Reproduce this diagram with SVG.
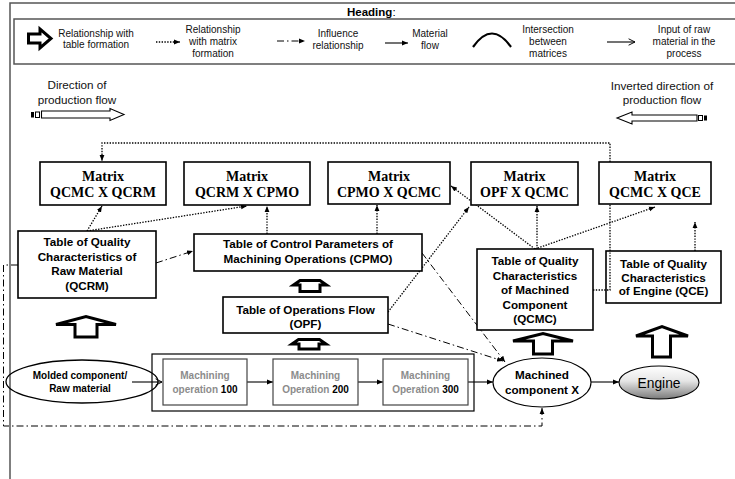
<svg xmlns="http://www.w3.org/2000/svg" width="735" height="479" viewBox="0 0 735 479">
  <style>
    .sans { font-family: "Liberation Sans", Arial, sans-serif; }
    .serif { font-family: "Liberation Serif", "Times New Roman", serif; }
    .legend { font-family: "Liberation Sans", Arial, sans-serif; font-size: 10px; fill: #111; text-anchor: middle; }
    .mtx { font-family: "Liberation Serif", "Times New Roman", serif; font-size: 14px; font-weight: bold; fill: #000; text-anchor: middle; }
    .tbl { font-family: "Liberation Sans", Arial, sans-serif; font-size: 11.7px; font-weight: bold; fill: #000; text-anchor: middle; }
    .op { font-family: "Liberation Sans", Arial, sans-serif; font-size: 10px; font-weight: bold; fill: #8c8c8c; text-anchor: middle; }
    .op .num { fill: #000; }
    .box { fill: #fff; stroke: #000; stroke-width: 1.6; }
    .opbox { fill: #fff; stroke: #444; stroke-width: 1.2; }
    .frame { fill: none; stroke: #555; stroke-width: 1.5; }
    .dot { fill: none; stroke: #000; stroke-width: 1.3; stroke-dasharray: 1.4 1.4; }
    .dash { fill: none; stroke: #000; stroke-width: 1; stroke-dasharray: 7 3 1.5 3; }
    .flow { fill: none; stroke: #000; stroke-width: 1.1; }
    .thick { fill: #fff; stroke: #000; stroke-width: 3; stroke-linejoin: miter; }
    .dir { fill: #fff; stroke: #000; stroke-width: 1.1; }
  </style>
  <defs>
    <marker id="ah" viewBox="0 0 10 10" refX="10" refY="5" markerWidth="6" markerHeight="6" markerUnits="userSpaceOnUse" orient="auto">
      <path d="M0,1 L10,5 L0,9 z" fill="#000"/>
    </marker>
    <marker id="ahOpen" viewBox="0 0 10 10" refX="9" refY="5" markerWidth="8" markerHeight="8" markerUnits="userSpaceOnUse" orient="auto">
      <path d="M1,1 L9,5 L1,9" fill="none" stroke="#000" stroke-width="1.2"/>
    </marker>
    <linearGradient id="engineFill" x1="0" y1="0" x2="0" y2="1">
      <stop offset="0" stop-color="#ffffff"/>
      <stop offset="0.45" stop-color="#e6e6e6"/>
      <stop offset="1" stop-color="#7a7a7a"/>
    </linearGradient>
  </defs>

  <rect width="735" height="479" fill="#fff"/>

  <!-- outer frame and legend -->
  <g id="legend">
    <path class="frame" d="M10,479 V3 H740"/>
    <rect class="frame" x="14" y="19" width="730" height="45"/>
    <text class="sans" x="347" y="15.5" font-size="11.5" font-weight="bold" fill="#000">Heading<tspan font-weight="normal">:</tspan></text>

    <polygon class="thick" points="28.5,34 40,34 40,29 51,38.5 40,48 40,43 28.5,43"/>
    <text class="legend" x="96" y="37">Relationship with</text>
    <text class="legend" x="96" y="48">table formation</text>

    <line class="dot" x1="156" y1="42" x2="180" y2="42" marker-end="url(#ah)"/>
    <text class="legend" x="213" y="33">Relationship</text>
    <text class="legend" x="213" y="45">with matrix</text>
    <text class="legend" x="213" y="57">formation</text>

    <line class="dash" x1="277" y1="41" x2="305" y2="41" marker-end="url(#ah)"/>
    <text class="legend" x="338" y="37">Influence</text>
    <text class="legend" x="338" y="49">relationship</text>

    <line class="flow" x1="385" y1="43" x2="408" y2="43" marker-end="url(#ah)"/>
    <text class="legend" x="430" y="37">Material</text>
    <text class="legend" x="430" y="49">flow</text>

    <path d="M473,47 Q492,20 511,47" fill="none" stroke="#000" stroke-width="2.2"/>
    <text class="legend" x="548" y="33">Intersection</text>
    <text class="legend" x="548" y="45">between</text>
    <text class="legend" x="548" y="57">matrices</text>

    <line class="flow" x1="607" y1="42" x2="635" y2="42" marker-end="url(#ahOpen)"/>
    <text class="legend" x="684" y="33">Input of raw</text>
    <text class="legend" x="684" y="45">material in the</text>
    <text class="legend" x="684" y="57">process</text>
  </g>

  <!-- production flow direction indicators -->
  <g id="direction-forward">
    <text class="sans" x="77" y="89" font-size="11.7" text-anchor="middle" fill="#111">Direction of</text>
    <text class="sans" x="77" y="104" font-size="11.7" text-anchor="middle" fill="#111">production flow</text>
    <rect x="31" y="112" width="3" height="5.5" fill="#000"/>
    <rect x="35.5" y="112" width="4" height="5.5" fill="#fff" stroke="#000" stroke-width="1"/>
    <polygon class="dir" points="41.5,111 110,111 110,108.5 124,114.5 110,120.5 110,118 41.5,118"/>
  </g>
  <g id="direction-inverted">
    <text class="sans" x="662" y="90" font-size="11.7" text-anchor="middle" fill="#111">Inverted direction of</text>
    <text class="sans" x="662" y="104" font-size="11.7" text-anchor="middle" fill="#111">production flow</text>
    <polygon class="dir" points="697,115 632,115 632,112 617,118 632,124 632,121 697,121"/>
    <rect x="698.5" y="115.5" width="4" height="5" fill="#fff" stroke="#000" stroke-width="1"/>
    <rect x="704" y="115.5" width="3" height="5" fill="#000"/>
  </g>

  <!-- connectors -->
  <g id="connectors">
    <!-- matrix formation (dotted) -->
    <path class="dot" d="M593,290 H610 V204"/>
    <path class="dot" d="M610,162 V143 H102 V161" marker-end="url(#ah)"/>
    <line class="dot" x1="87" y1="231" x2="102" y2="206" marker-end="url(#ah)"/>
    <line class="dot" x1="87" y1="231" x2="247" y2="206" marker-end="url(#ah)"/>
    <line class="dot" x1="267" y1="234" x2="267" y2="206" marker-end="url(#ah)"/>
    <line class="dot" x1="377" y1="234" x2="377" y2="205" marker-end="url(#ah)"/>
    <line class="dot" x1="388" y1="312" x2="469" y2="207" marker-end="url(#ah)"/>
    <line class="dot" x1="535" y1="249" x2="451" y2="186" marker-end="url(#ah)"/>
    <line class="dot" x1="537" y1="249" x2="537" y2="206" marker-end="url(#ah)"/>
    <line class="dot" x1="535" y1="249" x2="655" y2="207" marker-end="url(#ah)"/>
    <line class="dot" x1="695" y1="251" x2="695" y2="222" marker-end="url(#ah)"/>

    <!-- influence (dash-dot) -->
    <line class="dash" x1="156" y1="263" x2="193" y2="251" marker-end="url(#ah)"/>
    <line class="dash" x1="422" y1="253" x2="505" y2="362" marker-end="url(#ah)"/>
    <line class="dash" x1="388" y1="324" x2="503" y2="361" marker-end="url(#ah)"/>
    <path class="dash" d="M18,265 H3.5 V426 H542 V408" stroke="#333" marker-end="url(#ah)"/>

    <!-- material flow -->
    <line class="flow" x1="132" y1="382" x2="162" y2="382" marker-end="url(#ahOpen)"/>
    <line class="flow" x1="247" y1="382" x2="273" y2="382" marker-end="url(#ah)"/>
    <line class="flow" x1="358" y1="382" x2="383" y2="382" marker-end="url(#ah)"/>
    <line class="flow" x1="468" y1="382" x2="493" y2="382" marker-end="url(#ah)"/>
    <line class="flow" x1="591" y1="382" x2="619" y2="382" marker-end="url(#ah)"/>
  </g>

  <!-- table formation arrows -->
  <g id="table-arrows">
    <polygon class="thick" points="75,337 75,324.5 56,324.5 86,316.5 116,324.5 97,324.5 97,337"/>
    <polygon class="thick" points="300,291.5 300,285 293.5,285 300,280.5 320,280.5 326.5,285 320,285 320,291.5"/>
    <polygon class="thick" points="299,349 299,344 292,344 298.5,339.5 319.5,339.5 326,344 319,344 319,349"/>
    <polygon class="thick" points="533.5,354 533.5,341 513,341 543,333.5 573,341 552.5,341 552.5,354"/>
    <polygon class="thick" points="652.5,357 652.5,336 636,336 662,326.5 688,336 670.5,336 670.5,357"/>
  </g>

  <!-- matrices -->
  <g id="matrix-qcmc-qcrm">
    <rect class="box" x="40" y="162" width="126" height="43"/>
    <text class="mtx" x="103" y="181">Matrix</text>
    <text class="mtx" x="103" y="197">QCMC X QCRM</text>
  </g>
  <g id="matrix-qcrm-cpmo">
    <rect class="box" x="184" y="162" width="126" height="43"/>
    <text class="mtx" x="247" y="181">Matrix</text>
    <text class="mtx" x="247" y="197">QCRM X CPMO</text>
  </g>
  <g id="matrix-cpmo-qcmc">
    <rect class="box" x="328" y="162" width="122" height="42"/>
    <text class="mtx" x="389" y="181">Matrix</text>
    <text class="mtx" x="389" y="197">CPMO X QCMC</text>
  </g>
  <g id="matrix-opf-qcmc">
    <rect class="box" x="471" y="162" width="107" height="43"/>
    <text class="mtx" x="524.5" y="181">Matrix</text>
    <text class="mtx" x="524.5" y="197">OPF X QCMC</text>
  </g>
  <g id="matrix-qcmc-qce">
    <rect class="box" x="599" y="162" width="112" height="42"/>
    <text class="mtx" x="655" y="181">Matrix</text>
    <text class="mtx" x="655" y="197">QCMC X QCE</text>
  </g>

  <!-- tables -->
  <g id="table-qcrm">
    <rect class="box" x="18" y="231" width="138" height="67"/>
    <text class="tbl" x="87" y="246">Table of Quality</text>
    <text class="tbl" x="87" y="261">Characteristics of</text>
    <text class="tbl" x="87" y="275">Raw Material</text>
    <text class="tbl" x="87" y="290">(QCRM)</text>
  </g>
  <g id="table-cpmo">
    <rect class="box" x="194" y="234" width="228" height="37"/>
    <text class="tbl" x="308" y="248">Table of Control Parameters of</text>
    <text class="tbl" x="308" y="263">Machining Operations (CPMO)</text>
  </g>
  <g id="table-opf">
    <rect class="box" x="223" y="297" width="165" height="36"/>
    <text class="tbl" x="305.5" y="314">Table of Operations Flow</text>
    <text class="tbl" x="305.5" y="328">(OPF)</text>
  </g>
  <g id="table-qcmc">
    <rect class="box" x="477" y="249" width="116" height="81"/>
    <text class="tbl" x="535" y="265">Table of Quality</text>
    <text class="tbl" x="535" y="279.5">Characteristics</text>
    <text class="tbl" x="535" y="294">of Machined</text>
    <text class="tbl" x="535" y="308.5">Component</text>
    <text class="tbl" x="535" y="323">(QCMC)</text>
  </g>
  <g id="table-qce">
    <rect class="box" x="606" y="251" width="115" height="52" fill="none" style="fill:none"/>
    <text class="tbl" x="663.5" y="268">Table of Quality</text>
    <text class="tbl" x="663.5" y="281.5">Characteristics</text>
    <text class="tbl" x="663.5" y="295">of Engine (QCE)</text>
  </g>

  <!-- machining process -->
  <g id="raw-material">
    <ellipse cx="82" cy="381.5" rx="76" ry="21.5" fill="none" stroke="#000" stroke-width="1.3"/>
    <text class="sans" x="80" y="379" font-size="10" font-weight="bold" text-anchor="middle">Molded component/</text>
    <text class="sans" x="80" y="392" font-size="10" font-weight="bold" text-anchor="middle">Raw material</text>
  </g>
  <g id="machining-process">
    <rect x="152" y="354" width="322" height="57" fill="none" stroke="#000" stroke-width="1.2"/>
  </g>
  <g id="op-100">
    <rect class="opbox" x="163" y="359" width="84" height="46"/>
    <text class="op" x="205" y="379">Machining</text>
    <text class="op" x="205" y="393">operation <tspan class="num">100</tspan></text>
  </g>
  <g id="op-200">
    <rect class="opbox" x="273" y="359" width="85" height="46"/>
    <text class="op" x="315.5" y="379">Machining</text>
    <text class="op" x="315.5" y="393">Operation <tspan class="num">200</tspan></text>
  </g>
  <g id="op-300">
    <rect class="opbox" x="383" y="359" width="85" height="46"/>
    <text class="op" x="425.5" y="379">Machining</text>
    <text class="op" x="425.5" y="393">Operation <tspan class="num">300</tspan></text>
  </g>
  <g id="machined-component">
    <ellipse cx="542" cy="382.5" rx="49" ry="24.5" fill="#fff" stroke="#000" stroke-width="1.1"/>
    <text class="sans" x="542" y="379" font-size="11.7" font-weight="bold" text-anchor="middle">Machined</text>
    <text class="sans" x="542" y="394" font-size="11.7" font-weight="bold" text-anchor="middle">component X</text>
  </g>
  <g id="engine">
    <ellipse cx="659" cy="382.5" rx="40" ry="16.5" fill="url(#engineFill)" stroke="#000" stroke-width="1.1"/>
    <text class="sans" x="659" y="387.5" font-size="13.8" text-anchor="middle">Engine</text>
  </g>
</svg>
